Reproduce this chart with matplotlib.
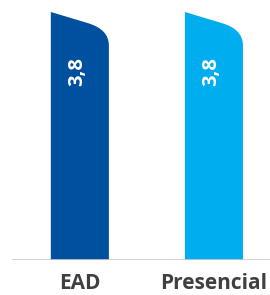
import matplotlib.pyplot as plt
from matplotlib.path import Path
from matplotlib.patches import PathPatch

categorias = ['EAD', 'Presencial']
valores = [3.8, 3.8]
rotulos = ['3,8', '3,8']
cores = ['#0050a0', '#00aeef']

fig = plt.figure(figsize=(2.7, 2.95), dpi=100)
ax = fig.add_axes([0.044, 0.1186, 0.956, 0.8407])

w = 0.433
for i, v in enumerate(valores):
    x0 = i - w / 2
    x1 = i + w / 2
    # barra com canto superior direito arredondado e topo inclinado
    verts = [(x0, 0), (x0, v), (x0 + 0.64 * w, v * 0.955),
             (x1, v * 0.93), (x1, v * 0.865), (x1, 0), (x0, 0)]
    codes = [Path.MOVETO, Path.LINETO, Path.LINETO,
             Path.CURVE3, Path.CURVE3, Path.LINETO, Path.CLOSEPOLY]
    ax.add_patch(PathPatch(Path(verts, codes), facecolor=cores[i], edgecolor='none'))
    ax.text(i - 0.02, v * 0.76, rotulos[i], rotation=90, color='white',
            fontsize=14.5, fontweight='bold', family='Open Sans',
            ha='center', va='center')

ax.set_xlim(-0.507, 1.418)
ax.set_ylim(0, 3.8)
ax.axhline(0, color='#c8c8d0', lw=1.2)

ax.set_xticks(range(len(categorias)))
ax.set_xticklabels(categorias, fontsize=15, fontweight='bold',
                   family='Open Sans', color='#404040')
ax.tick_params(axis='x', length=0, pad=9)
ax.set_yticks([])
for s in ax.spines.values():
    s.set_visible(False)

fig.savefig('out.png', dpi=100)
